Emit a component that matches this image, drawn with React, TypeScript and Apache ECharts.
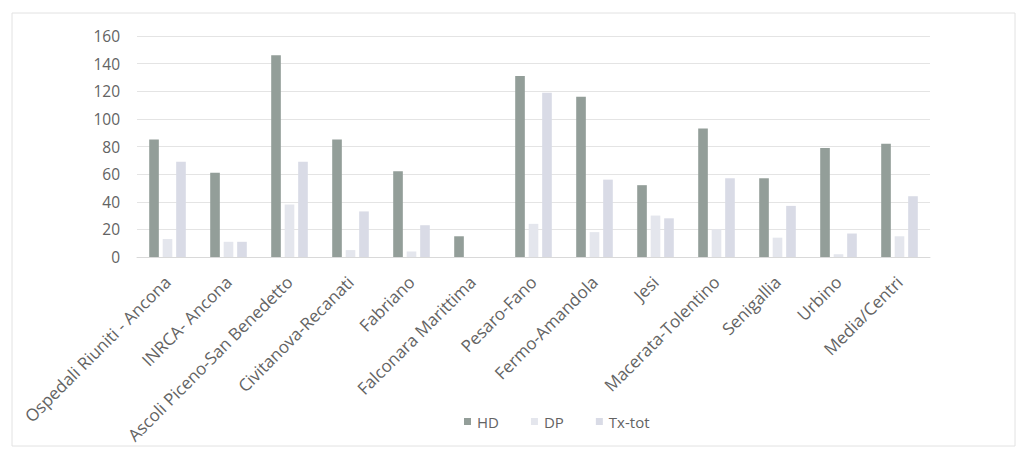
import React, { useEffect, useRef } from "react";
import * as echarts from "echarts";

const categories = [
  "Ospedali Riuniti - Ancona",
  "INRCA- Ancona",
  "Ascoli Piceno-San Benedetto",
  "Civitanova-Recanati",
  "Fabriano",
  "Falconara Marittima",
  "Pesaro-Fano",
  "Fermo-Amandola",
  "Jesi",
  "Macerata-Tolentino",
  "Senigallia",
  "Urbino",
  "Media/Centri",
];

const hdValues = [85, 61, 146, 85, 62, 15, 131, 116, 52, 93, 57, 79, 82];
const dpValues = [13, 11, 38, 5, 4, 0, 24, 18, 30, 20, 14, 2, 15];
const txTotValues = [69, 11, 69, 33, 23, 0, 119, 56, 28, 57, 37, 17, 44];

const seriesNames = ["HD", "DP", "Tx-tot"];
const yTicks = { min: 0, max: 160, interval: 20 };

const FONT = "'Open Sans', 'Noto Sans', sans-serif";
const TEXT = "#636363";

export default function App() {
  const ref = useRef<HTMLDivElement>(null);

  useEffect(() => {
    if (!ref.current) return;
    const chart = echarts.init(ref.current, null, { renderer: "svg" });
    const colors = ["#939e99", "#e4e6ed", "#d9dbe6"];
    const data = [hdValues, dpValues, txTotValues];

    chart.setOption({
      animation: false,
      backgroundColor: "#ffffff",
      textStyle: { fontFamily: FONT },
      graphic: [
        {
          type: "rect",
          shape: { x: 12, y: 13, width: 1003, height: 433 },
          style: { fill: "none", stroke: "#e2e2e2", lineWidth: 1 },
          silent: true,
        },
      ],
      grid: { left: 137, right: 97, top: 36, bottom: 198, containLabel: false },
      legend: {
        bottom: 21,
        left: 459,
        itemWidth: 7,
        itemHeight: 7,
        itemGap: 32,
        icon: "rect",
        textStyle: { color: TEXT, fontSize: 15, fontFamily: FONT, padding: [0, 0, 0, 1] },
        data: seriesNames,
      },
      xAxis: {
        type: "category",
        data: categories,
        axisLine: { show: true, lineStyle: { color: "#d9d9d9" } },
        axisTick: { show: false },
        axisLabel: {
          interval: 0,
          rotate: 45,
          margin: 22,
          color: TEXT,
          fontSize: 17,
          fontFamily: FONT,
        },
      },
      yAxis: {
        type: "value",
        min: yTicks.min,
        max: yTicks.max,
        interval: yTicks.interval,
        axisLine: { show: false },
        axisTick: { show: false },
        splitLine: { lineStyle: { color: "#e4e4e4" } },
        axisLabel: { color: TEXT, fontSize: 15.5, fontFamily: FONT, margin: 17 },
      },
      series: seriesNames.map((name, i) => ({
        name,
        type: "bar",
        data: data[i],
        barGap: "40%",
        barCategoryGap: "40%",
        itemStyle: { color: colors[i] },
      })),
    });

    return () => chart.dispose();
  }, []);

  return (
    <div
      ref={ref}
      style={{ position: "fixed", left: 0, top: 0, width: 1027, height: 455, background: "#fff" }}
    />
  );
}
